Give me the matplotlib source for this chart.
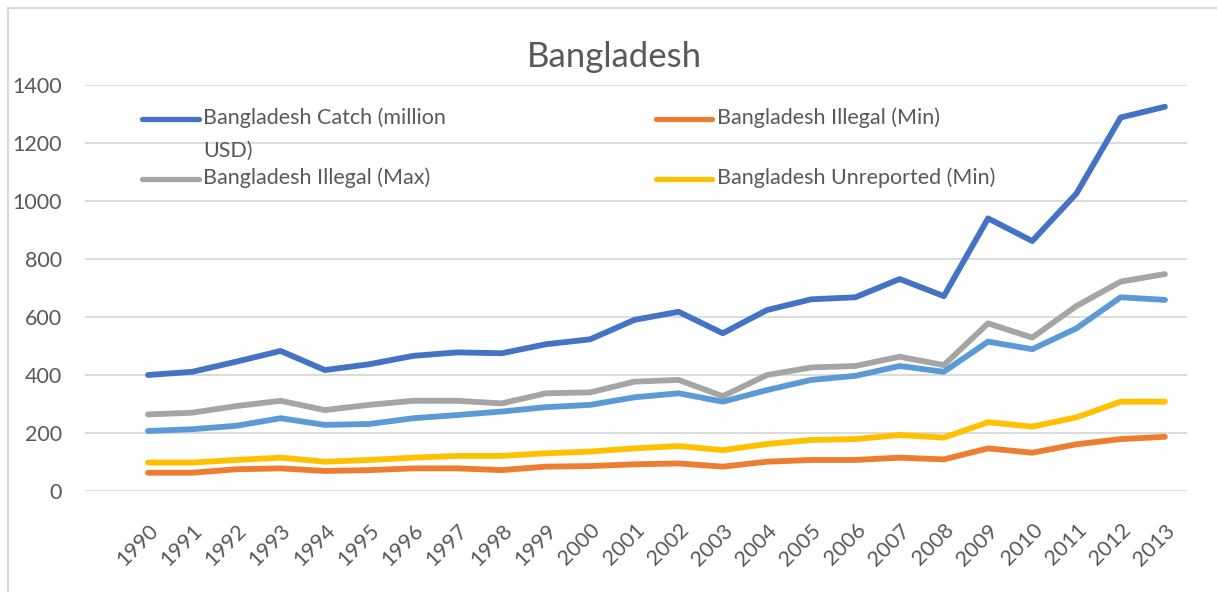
import matplotlib
matplotlib.use("Agg")
import matplotlib.pyplot as plt
from matplotlib.lines import Line2D

# Annual values, million USD
years = [str(y) for y in range(1990, 2014)]
catch = [400, 411, 446, 483, 417, 437, 466, 478, 475, 506, 523,
         590, 618, 544, 624, 661, 668, 731, 672, 940, 862, 1026, 1288, 1325]
illegal_min = [63, 63, 75, 78, 69, 72, 78, 78, 72, 84, 86,
               92, 95, 84, 101, 107, 107, 115, 109, 147, 132, 161, 179, 187]
illegal_max = [264, 270, 293, 311, 279, 297, 311, 311, 302, 337, 340,
               377, 383, 327, 400, 426, 431, 463, 434, 578, 529, 638, 722, 748]
unreported_min = [98, 98, 107, 115, 101, 107, 115, 121, 121, 130, 136,
                  147, 155, 141, 162, 176, 179, 193, 184, 237, 222, 254, 308, 308]
unreported_max = [207, 213, 225, 251, 228, 231, 251, 262, 274, 289, 297,
                  323, 337, 308, 348, 383, 397, 431, 411, 515, 489, 561, 668, 659]

series_names = ["Bangladesh Catch (million\nUSD)", "Bangladesh Illegal (Min)",
                "Bangladesh Illegal (Max)", "Bangladesh Unreported (Min)",
                "Bangladesh Unreported (Max)"]
colors = ["#4472C4", "#ED7D31", "#A5A5A5", "#FFC000", "#5B9BD5"]
y_ticks = [0, 200, 400, 600, 800, 1000, 1200, 1400]

TEXT = "#595959"
GRID = "#D9D9D9"
FONT = ["Lato", "DejaVu Sans"]
plt.rcParams["font.family"] = FONT

W, H = 1217, 592
fig = plt.figure(figsize=(W / 100, H / 100), dpi=100)
fig.patch.set_facecolor("white")


def fx(px):
    return px / W


def fy(py):
    return 1 - py / H


ax = fig.add_axes([fx(85), fy(491), fx(1187) - fx(85), fy(85) - fy(491)])

x = list(range(len(years)))
all_series = [catch, illegal_min, illegal_max, unreported_min, unreported_max]
for vals, col in zip(all_series, colors):
    ax.plot(x, vals, color=col, linewidth=4.2, solid_capstyle="round",
            solid_joinstyle="round", zorder=3)

ax.set_xlim(-1.425, 23.5)
ax.set_ylim(0, 1400)
ax.set_yticks(y_ticks)
ax.set_yticklabels([str(v) for v in y_ticks])
ax.set_xticks(x)
ax.set_xticklabels(years, rotation=45, ha="right", rotation_mode="anchor")
ax.tick_params(axis="both", length=0, colors=TEXT, labelsize=15.5)
ax.tick_params(axis="y", pad=16.5)
ax.tick_params(axis="x", pad=21)
for lab in ax.get_xticklabels():
    lab.set_fontsize(15.5)
ax.grid(axis="y", color=GRID, linewidth=1.3, zorder=0)
for side in ["top", "right", "left", "bottom"]:
    ax.spines[side].set_visible(False)

# chart title
fig.text(fx(614), fy(57), "Bangladesh", ha="center", va="center",
         fontsize=25, color=TEXT)

# legend: two columns, four entries
legend_items = [
    (0, 142, 199, 119, 203),
    (2, 142, 199, 179, 203),
    (1, 656, 712, 119, 717),
    (3, 656, 712, 179, 717),
]
for idx, x0, x1, yy, tx in legend_items:
    fig.lines.append(Line2D([fx(x0), fx(x1)], [fy(yy), fy(yy)],
                            transform=fig.transFigure, color=colors[idx],
                            linewidth=3.8, solid_capstyle="round"))
    fig.text(fx(tx), fy(yy - 12), series_names[idx], ha="left", va="top",
             fontsize=15.5, color=TEXT, linespacing=1.85)

# chart area border
fig.lines.append(Line2D([fx(8), fx(8)], [fy(8), 0], transform=fig.transFigure,
                        color=GRID, linewidth=1.5))
fig.lines.append(Line2D([fx(8), 1], [fy(8), fy(8)], transform=fig.transFigure,
                        color=GRID, linewidth=1.5))

fig.savefig("out.png", dpi=100, facecolor="white")
